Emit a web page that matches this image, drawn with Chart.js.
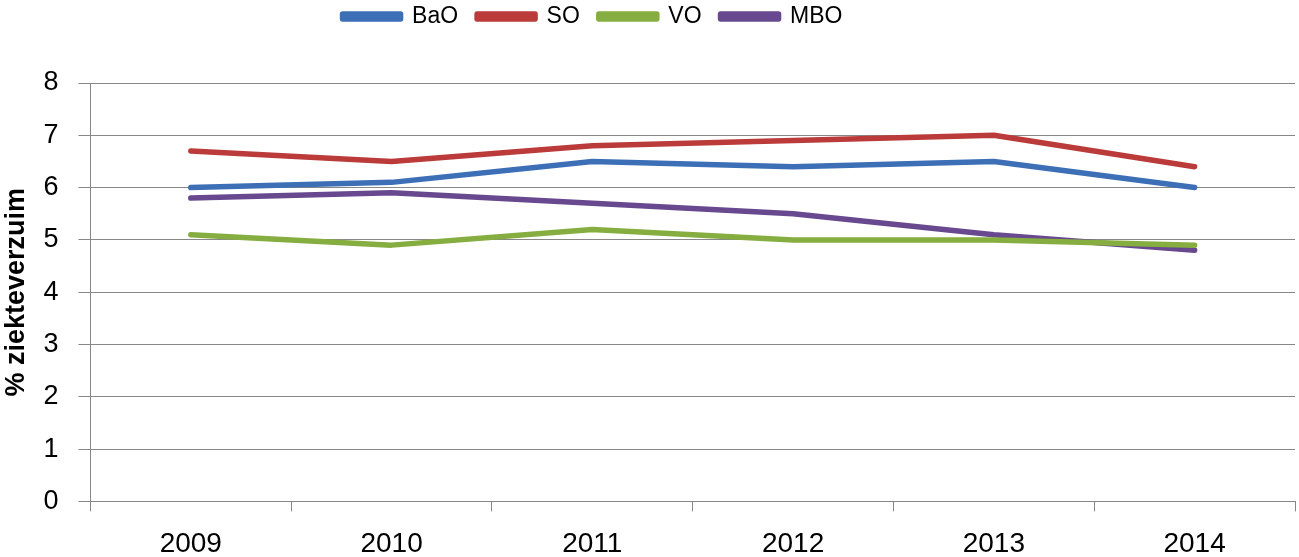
<!DOCTYPE html>
<html><head><meta charset="utf-8">
<script src="https://cdn.jsdelivr.net/npm/chart.js@4/dist/chart.umd.min.js"></script>
<style>html,body{margin:0;padding:0;background:#fff;}canvas{display:block;}</style>
</head><body>
<canvas id="c" width="1299" height="557"></canvas>
<script>
const categories = ["2009","2010","2011","2012","2013","2014"];
const seriesNames = ["BaO","SO","VO","MBO"];
const bao = [6.0, 6.1, 6.5, 6.4, 6.5, 6.0];
const so  = [6.7, 6.5, 6.8, 6.9, 7.0, 6.4];
const vo  = [5.1, 4.9, 5.2, 5.0, 5.0, 4.9];
const mbo = [5.8, 5.9, 5.7, 5.5, 5.1, 4.8];
const colors = ["#3d6fb6", "#bb3b3a", "#86ad3f", "#68498f"];
const yTitle = "% ziekteverzuim";

const FONT = "'Liberation Sans',Arial,sans-serif";
const values = [bao, so, vo, mbo];
const datasets = seriesNames.map((n,i)=>({
  label:n, data:values[i], borderColor:colors[i], backgroundColor:colors[i],
  borderWidth:5.5, pointRadius:0, tension:0, borderCapStyle:'round', borderJoinStyle:'round'
}));

// legend sits left of the canvas centre in the reference
const legendShift = {
  id:'legendShift',
  afterLayout(chart){ const lg = chart.legend; if (lg) { lg.left -= 55; lg.right -= 55; } }
};

new Chart(document.getElementById('c'), {
  type:'line',
  data:{labels:categories, datasets},
  plugins:[legendShift],
  options:{
    responsive:false, animation:false,
    layout:{padding:{left:0, right:4, top:-14, bottom:-20}},
    plugins:{
      legend:{position:'top', labels:{boxWidth:58, boxHeight:5, padding:19, color:'#000',
        font:{family:FONT, size:23}}},
      // empty subtitle below the legend only reserves the gap above the plot
      subtitle:{display:true, text:'', weight:500, position:'top', font:{size:10}, padding:{top:0, bottom:33}},
      tooltip:{enabled:false}
    },
    scales:{
      x:{offset:true,
        grid:{offset:true, drawOnChartArea:false, color:'#878787', tickLength:10, lineWidth:1},
        border:{color:'#878787'},
        ticks:{color:'#000', font:{family:FONT, size:28}, padding:16}},
      y:{min:0, max:8,
        grid:{color:'#878787', tickLength:12, lineWidth:1},
        border:{color:'#878787'},
        ticks:{stepSize:1, color:'#000', font:{family:FONT, size:27}, padding:20},
        title:{display:true, text:yTitle, color:'#000', font:{family:FONT, size:27, weight:'bold'}, padding:{top:0,bottom:-9}}}
    }
  }
});
</script>
</body></html>
